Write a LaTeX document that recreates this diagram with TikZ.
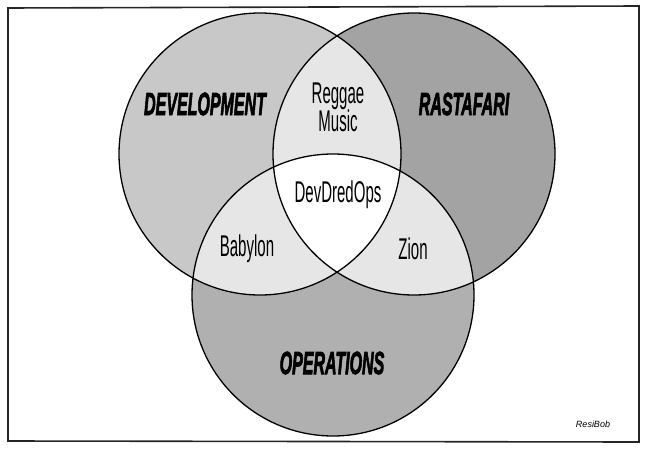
\documentclass[tikz,border=0pt]{standalone}
\usepackage{fontspec}
\setmainfont{Liberation Sans}
\newfontfamily\heavyfont[BoldItalicFeatures={FakeBold=3}]{Liberation Sans}
\definecolor{devgray}{RGB}{200,200,200}
\definecolor{rastagray}{RGB}{163,163,163}
\definecolor{opsgray}{RGB}{176,176,176}
\definecolor{lensgray}{RGB}{230,230,230}
\begin{document}
\begin{tikzpicture}[
    x=1pt, y=-1pt,
    set/.style={draw=black, line width=1.3pt},
    frame/.style={draw=black!85, line width=1.6pt},
    title/.style={font=\heavyfont\fontsize{32}{32}\selectfont\bfseries\itshape, xscale=0.5, inner sep=0pt},
    region/.style={font=\fontsize{30}{28}\selectfont, xscale=0.5, align=center, inner sep=0pt},
    sign/.style={font=\fontsize{9}{9}\selectfont\itshape, inner sep=0pt}
]
\useasboundingbox (0,0) rectangle (650,450);
\def\devset{(260,154) circle (141pt)}
\def\rastaset{(414,154) circle (141pt)}
\def\opsset{(333,295) circle (141pt)}

\fill[devgray] \devset;
\fill[rastagray] \rastaset;
\fill[opsgray] \opsset;
\begin{scope}
    \clip \devset;
    \fill[lensgray] \rastaset;
    \fill[lensgray] \opsset;
\end{scope}
\begin{scope}
    \clip \rastaset;
    \fill[lensgray] \opsset;
\end{scope}
\begin{scope}
    \clip \devset;
    \clip \rastaset;
    \fill[white] \opsset;
\end{scope}
\draw[set] \devset \rastaset \opsset;

\draw[frame] (8,8) -- (639,6) -- (639,442) -- (8,441) -- cycle;

\node[title] (dev) at (205,104) {DEVELOPMENT};
\node[title] (rasta) at (464,104) {RASTAFARI};
\node[title] (ops) at (332,363) {OPERATIONS};
\node[region] (reggae) at (338,107) {Reggae\\Music};
\node[region] (devdred) at (338,195) {DevDredOps};
\node[region] (babylon) at (247,249) {Babylon};
\node[region] (zion) at (413,249) {Zion};
\node[sign] (author) at (593,424) {ResiBob};
\end{tikzpicture}
\end{document}
